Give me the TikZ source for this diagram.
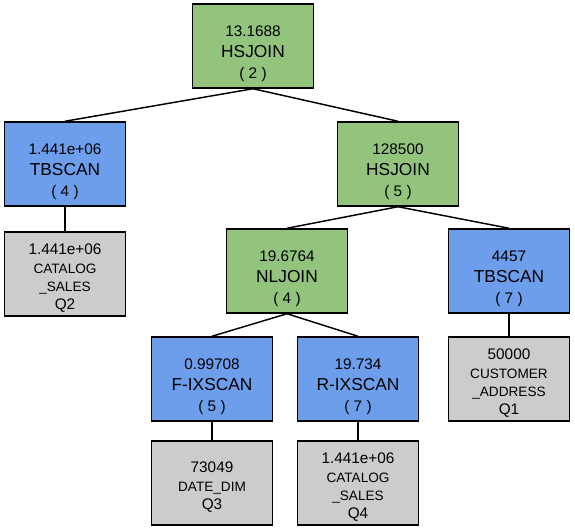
\documentclass[tikz,border=0pt]{standalone}
\usepackage{fontspec}
\setmainfont{Liberation Sans}
\usetikzlibrary{positioning}
\definecolor{opgreen}{HTML}{93C47D}
\definecolor{opblue}{HTML}{6D9EEB}
\definecolor{opgray}{HTML}{CCCCCC}
\newcommand{\opstrut}{\rule{0pt}{19.5pt}}
\newcommand{\leafstrut}{\rule{0pt}{14.5pt}}

\begin{document}
\begin{tikzpicture}[
    x=0.75pt, y=-0.75pt,
    opbox/.style={rectangle, draw=black, line width=1.1pt, minimum width=90.75pt, minimum height=63pt, align=center, inner sep=0pt, font=\fontsize{11.5}{16}\selectfont},
    joinop/.style={opbox, fill=opgreen},
    scanop/.style={opbox, fill=opblue},
    tableop/.style={opbox, fill=opgray, font=\fontsize{11.5}{13.75}\selectfont},
    edge/.style={line width=1.1pt, black}
]
\useasboundingbox (0,0) rectangle (575,530);

\node[joinop] (hsjoin2) at (253,46) {\opstrut 13.1688\\{\fontsize{13}{16}\selectfont HSJOIN}\\( 2 )};
\node[scanop] (tbscan4) at (65,164) {\opstrut 1.441e+06\\{\fontsize{13}{16}\selectfont TBSCAN}\\( 4 )};
\node[tableop] (q2) at (65,274) {\leafstrut 1.441e+06\\{\fontsize{10.2}{13.75}\selectfont CATALOG}\\{\fontsize{10.2}{13.75}\selectfont \_SALES}\\Q2};
\node[joinop] (hsjoin5) at (398,164) {\opstrut 128500\\{\fontsize{13}{16}\selectfont HSJOIN}\\( 5 )};
\node[joinop] (nljoin4) at (287,271) {\opstrut 19.6764\\{\fontsize{13}{16}\selectfont NLJOIN}\\( 4 )};
\node[scanop] (tbscan7) at (509,271) {\opstrut 4457\\{\fontsize{13}{16}\selectfont TBSCAN}\\( 7 )};
\node[tableop] (q1) at (509,379) {\leafstrut 50000\\{\fontsize{10.2}{13.75}\selectfont CUSTOMER}\\{\fontsize{10.2}{13.75}\selectfont \_ADDRESS}\\Q1};
\node[scanop] (fixscan5) at (212,379) {\opstrut 0.99708\\{\fontsize{13}{16}\selectfont F-IXSCAN}\\( 5 )};
\node[scanop] (rixscan7) at (358,379) {\opstrut 19.734\\{\fontsize{13}{16}\selectfont R-IXSCAN}\\( 7 )};
\node[tableop] (q3) at (212,483) {\leafstrut 73049\\{\fontsize{10.2}{13.75}\selectfont DATE\_DIM}\\Q3};
\node[tableop] (q4) at (358,483) {\leafstrut 1.441e+06\\{\fontsize{10.2}{13.75}\selectfont CATALOG}\\{\fontsize{10.2}{13.75}\selectfont \_SALES}\\Q4};

\draw[edge] (hsjoin2.south) -- (tbscan4.north);
\draw[edge] (hsjoin2.south) -- (hsjoin5.north);
\draw[edge] (tbscan4) -- (q2);
\draw[edge] (hsjoin5.south) -- (nljoin4.north);
\draw[edge] (hsjoin5.south) -- (tbscan7.north);
\draw[edge] (tbscan7) -- (q1);
\draw[edge] (nljoin4.south) -- (fixscan5.north);
\draw[edge] (nljoin4.south) -- (rixscan7.north);
\draw[edge] (fixscan5) -- (q3);
\draw[edge] (rixscan7) -- (q4);

\end{tikzpicture}
\end{document}
